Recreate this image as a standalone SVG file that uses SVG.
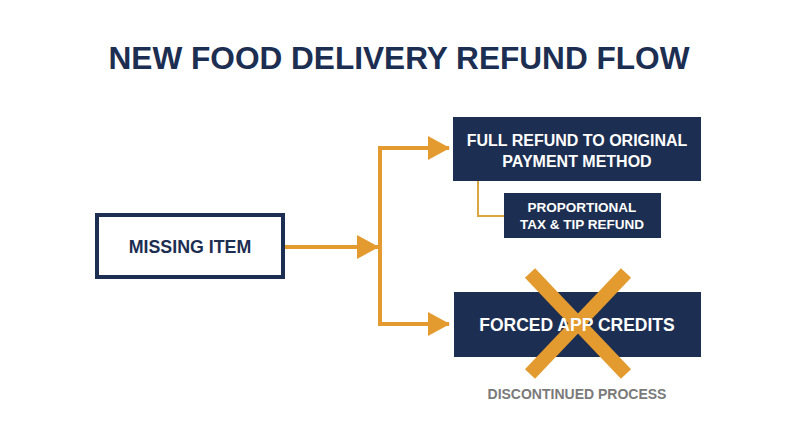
<svg xmlns="http://www.w3.org/2000/svg" width="800" height="447" viewBox="0 0 800 447">
<defs>
<style>
.t{font-family:"Liberation Sans",Arial,sans-serif;font-weight:bold;text-anchor:middle}
.nv{fill:#1c2e51}
.wh{fill:#ffffff}
.ln{stroke:#e39b2f;stroke-width:4;fill:none}
.thin{stroke:#dca643;stroke-width:2;fill:none}
</style>
<marker id="ah" viewBox="0 0 22 24" refX="21" refY="12" markerWidth="22" markerHeight="24" markerUnits="userSpaceOnUse" orient="auto">
<path d="M0,0 L22,12 L0,24 Z" fill="#e39b2f"/>
</marker>
</defs>
<rect width="800" height="447" fill="#ffffff"/>
<text class="t nv" x="399" y="69" font-size="31.6">NEW FOOD DELIVERY REFUND FLOW</text>
<g id="connectors">
<path class="ln" d="M285,247 H378" marker-end="url(#ah)"/>
<path class="ln" d="M380,325 V148 H449" marker-end="url(#ah)"/>
<path class="ln" d="M380,247 V324 H449" marker-end="url(#ah)"/>
<path class="thin" d="M478,181 V216 H504"/>
</g>
<g id="missing">
<rect x="97" y="215" width="186" height="62" fill="#ffffff" stroke="#1c2e51" stroke-width="4"/>
<text class="t nv" x="190" y="253" font-size="17.8">MISSING ITEM</text>
</g>
<g id="full">
<rect x="453" y="117" width="248" height="64" fill="#1c2e51"/>
<text class="t wh" x="577" y="146" font-size="16">FULL REFUND TO ORIGINAL</text>
<text class="t wh" x="577" y="167" font-size="16">PAYMENT METHOD</text>
</g>
<g id="prop">
<rect x="504" y="193" width="157" height="45" fill="#1c2e51"/>
<text class="t wh" x="582" y="212" font-size="13.5">PROPORTIONAL</text>
<text class="t wh" x="582" y="229" font-size="13.5">TAX &amp; TIP REFUND</text>
</g>
<g id="forced">
<rect x="454" y="292" width="247" height="65" fill="#1c2e51"/>
<g stroke="#e39b2f" stroke-width="14" stroke-linecap="butt">
<line x1="530" y1="273" x2="626" y2="374"/>
<line x1="626" y1="273" x2="530" y2="374"/>
</g>
<text class="t wh" x="577" y="331" font-size="17.5">FORCED APP CREDITS</text>
</g>
<g id="discontinued">
<text class="t" x="577" y="399" font-size="14" fill="#7a7a7a">DISCONTINUED PROCESS</text>
</g>
</svg>
